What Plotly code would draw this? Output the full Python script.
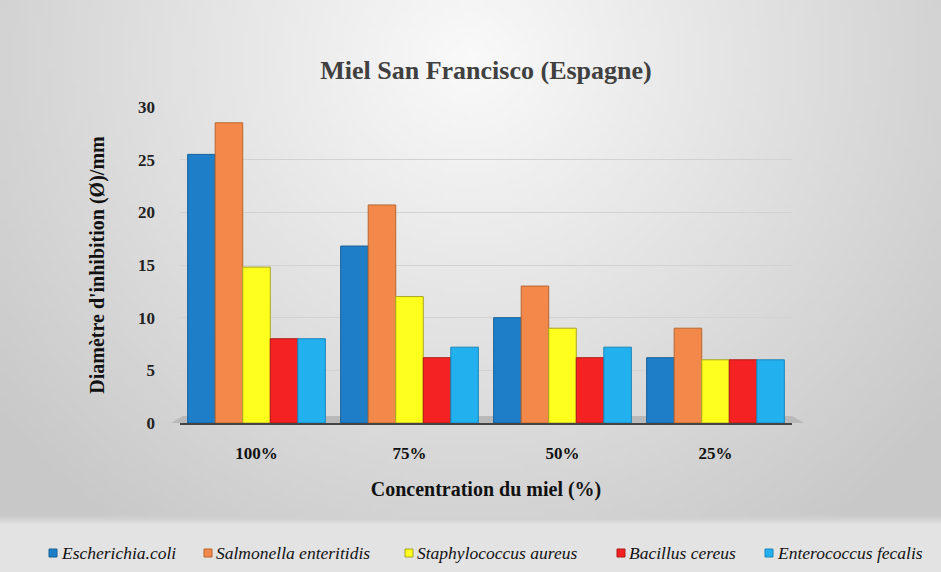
import base64, struct, zlib
import numpy as np
import plotly.graph_objects as go

# ---- data ----
categories = ["100%", "75%", "50%", "25%"]
series_names = ["Escherichia.coli", "Salmonella enteritidis", "Staphylococcus aureus",
                "Bacillus cereus", "Enterococcus fecalis"]
e_coli = [25.5, 16.8, 10.0, 6.2]
salmonella = [28.5, 20.7, 13.0, 9.0]
staph = [14.8, 12.0, 9.0, 6.0]
bacillus = [8.0, 6.2, 6.2, 6.0]
enterococcus = [8.0, 7.2, 7.2, 6.0]
series_values = [e_coli, salmonella, staph, bacillus, enterococcus]
colors = ["#1f7ec8", "#f2894b", "#ffff1e", "#f42222", "#22b0ef"]
edge_colors = ["#17609a", "#b8652f", "#a8a420", "#b01818", "#1a86b8"]
y_ticks = [0, 5, 10, 15, 20, 25, 30]
y_ticktext = ["<b>%d</b>" % t for t in y_ticks]
x_ticktext = ["<b>%s</b>" % c for c in categories]
legend_px = [49, 204, 405, 617, 765]   # left edge of each legend swatch (px)

W, H = 941, 572
L, R, T, B = 180, 149, 107, 149
pw = W - L - R
ph = H - T - B

def px_x(p):
    return (p - L) / pw

def px_y(p):
    return (H - B - p) / ph

# ---- background gradient as PNG ----
def make_png(arr):
    h, w, _ = arr.shape
    raw = b"".join(b"\x00" + arr[i].tobytes() for i in range(h))
    def chunk(tag, data):
        c = struct.pack(">I", len(data)) + tag + data
        return c + struct.pack(">I", zlib.crc32(tag + data) & 0xffffffff)
    png = b"\x89PNG\r\n\x1a\n"
    png += chunk(b"IHDR", struct.pack(">IIBBBBB", w, h, 8, 2, 0, 0, 0))
    png += chunk(b"IDAT", zlib.compress(raw, 9))
    png += chunk(b"IEND", b"")
    return "data:image/png;base64," + base64.b64encode(png).decode()

gw, gh = 188, 114
yy, xx = np.mgrid[0:gh, 0:gw]
fx = xx / (gw - 1)
fy = yy / (gh - 1)
d = np.sqrt(((fx - 0.5) / 0.62) ** 2 + ((fy - 0.1) / 1.0) ** 2)
v = np.clip(250 - 48 * d, 200, 250)
strip = fy > (522 / 572)
v = np.where(strip, 227, v)
line = (fy > (518 / 572)) & (fy <= (522 / 572))
v = np.where(line, 210, v)
img = np.stack([v, v, v], axis=-1).astype(np.uint8)
bg_src = make_png(img)

fig = go.Figure()
for name, vals, c, ec in zip(series_names, series_values, colors, edge_colors):
    fig.add_trace(go.Bar(
        x=categories, y=vals, name=name, showlegend=False,
        marker=dict(color=c, line=dict(color=ec, width=1)),
    ))

shapes = [dict(type="path", xref="paper", yref="paper",
               path="M -0.015 0 L 1.02 0 L 1.0 0.022 L 0.005 0.022 Z",
               fillcolor="#b9b9b9", line=dict(width=0), layer="below")]
annotations = []
ly = 553
for name, c, ec, lx in zip(series_names, colors, edge_colors, legend_px):
    shapes.append(dict(type="rect", xref="paper", yref="paper",
                       x0=px_x(lx), x1=px_x(lx + 8), y0=px_y(ly + 4), y1=px_y(ly - 4),
                       fillcolor=c, line=dict(color=ec, width=1)))
    annotations.append(dict(text="<i>" + name + "</i>", xref="paper", yref="paper",
                            x=px_x(lx + 10), y=px_y(ly), xanchor="left", yanchor="middle",
                            showarrow=False,
                            font=dict(family="Liberation Serif", size=17.5, color="#111")))

fig.update_layout(
    width=W, height=H,
    margin=dict(l=L, r=R, t=T, b=B, pad=0, autoexpand=False),
    paper_bgcolor="#e8e8e8",
    plot_bgcolor="rgba(0,0,0,0)",
    barmode="group", bargap=0.1, bargroupgap=0,
    showlegend=False,
    title=dict(text="<b>Miel San Francisco (Espagne)</b>", x=0.5, xref="paper",
               y=1 - 70 / H, yanchor="middle",
               font=dict(family="Liberation Serif", size=26, color="#404040")),
    font=dict(family="Liberation Serif", color="#1a1a1a"),
    xaxis=dict(
        title=dict(text="<b>Concentration du miel (%)</b>",
                   font=dict(family="Liberation Serif", size=20, color="#111"), standoff=20),
        tickmode="array", tickvals=categories, ticktext=x_ticktext,
        tickfont=dict(family="Liberation Serif", size=17, color="#111"),
        ticklabelstandoff=14,
        showline=True, linecolor="#444", linewidth=1.5,
        showgrid=False,
    ),
    yaxis=dict(
        title=dict(text="<b>Diamètre d'inhibition (Ø)/mm</b>",
                   font=dict(family="Liberation Serif", size=20, color="#111"), standoff=28),
        range=[0, 30], tickmode="array", tickvals=y_ticks, ticktext=y_ticktext,
        tickfont=dict(family="Liberation Serif", size=17, color="#222"),
        ticklabelstandoff=24,
        showgrid=True, gridcolor="#d2d2d2", gridwidth=1,
        zeroline=False, showline=False,
    ),
    images=[dict(source=bg_src, xref="paper", yref="paper",
                 x=-L / pw, y=1 + T / ph, sizex=W / pw, sizey=H / ph,
                 xanchor="left", yanchor="top", sizing="stretch", layer="below")],
    shapes=shapes,
    annotations=annotations,
)

fig.write_html("out.html")
